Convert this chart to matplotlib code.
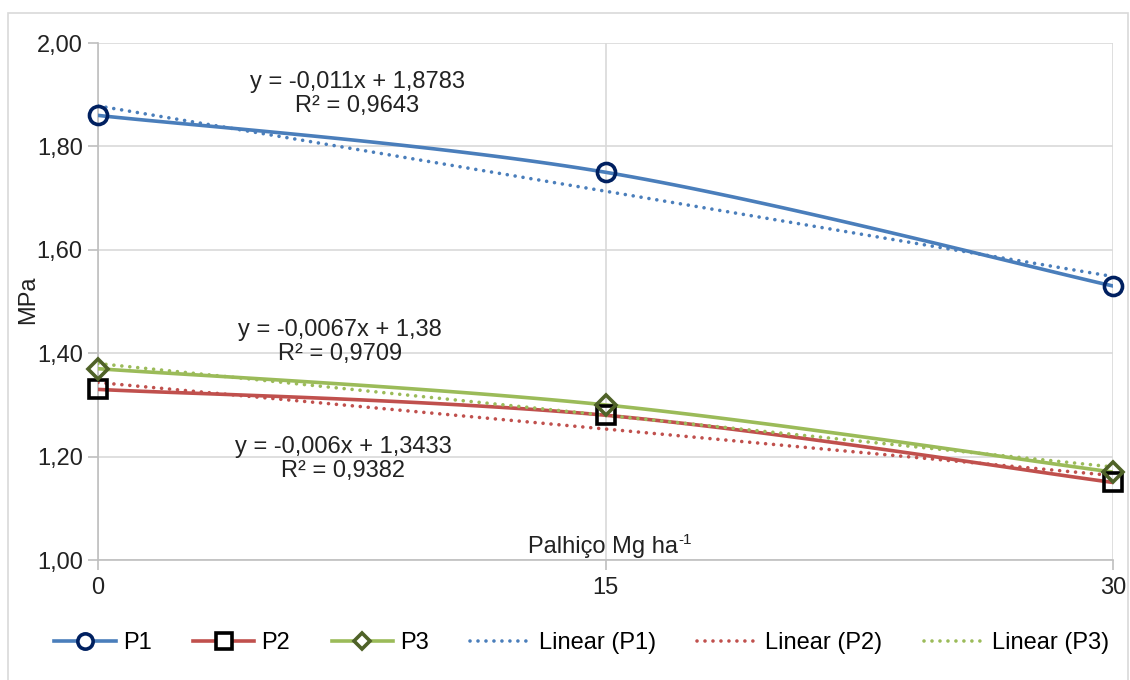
import numpy as np
import matplotlib
matplotlib.use("Agg")
import matplotlib.pyplot as plt
from matplotlib.patches import Rectangle
from matplotlib.ticker import FuncFormatter

plt.rcParams['font.family'] = ['Liberation Sans', 'DejaVu Sans']

palhico = [0, 15, 30]
p1 = [1.86, 1.75, 1.53]
p2 = [1.33, 1.28, 1.15]
p3 = [1.37, 1.30, 1.17]

names = ['P1', 'P2', 'P3']
colors = ['#4a7ebb', '#c0504d', '#9bbb59']
edge = ['#002060', '#000000', '#4f6228']
markers = ['o', 's', 'D']
msize = [13, 13, 10]
# where the trend equations sit (figure pixels)
label_pos = [(357, 94), (343, 459), (340, 342)]


def smooth(x, y, n=40):
    # catmull-rom style bezier, like the spreadsheet "smoothed line"
    x = np.asarray(x, float)
    y = np.asarray(y, float)
    pts = np.column_stack([x / 30.0, (y - 1.0) * 0.6])
    out = []
    for i in range(len(pts) - 1):
        p0 = pts[max(i - 1, 0)]
        pa = pts[i]
        pb = pts[i + 1]
        pc = pts[min(i + 2, len(pts) - 1)]
        c1 = pa + (pb - p0) / 6.0
        c2 = pb - (pc - pa) / 6.0
        t = np.linspace(0, 1, n)[:, None]
        seg = ((1 - t) ** 3) * pa + 3 * ((1 - t) ** 2) * t * c1 + 3 * (1 - t) * t ** 2 * c2 + t ** 3 * pb
        out.append(seg if i == 0 else seg[1:])
    out = np.vstack(out)
    return out[:, 0] * 30.0, out[:, 1] / 0.6 + 1.0


def fmt(v, d):
    return ('{:.%df}' % d).format(v).replace('.', ',')


def gen(v):
    s = '{:.4f}'.format(v).rstrip('0').rstrip('.')
    return s.replace('.', ',')


fig = plt.figure(figsize=(11.3, 6.8), dpi=100)
fig.patches.append(Rectangle((8 / 1130, -0.01), 1 - 10 / 1130, 1.01 - 13 / 680, transform=fig.transFigure,
                             fill=False, edgecolor='#d9d9d9', lw=1.2))
ax = fig.add_axes([98 / 1130, 1 - 560 / 680, (1113 - 98) / 1130, (560 - 43) / 680])

dots = (0, (0.01, 2.2))
series = [p1, p2, p3]
handles = []
for s, name, c, e, m, ms in zip(series, names, colors, edge, markers, msize):
    sx, sy = smooth(palhico, s)
    ax.plot(sx, sy, color=c, lw=2.6, zorder=3)
    ax.plot(palhico, s, ls='none', marker=m, ms=ms, mfc='none', mec=e, mew=2.6, zorder=5, clip_on=False)
    h, = ax.plot([], [], color=c, lw=2.6, marker=m, ms=ms - 2, mfc='white', mec=e, mew=2.6)
    handles.append((h, name))

fits = []
for s, name, c in zip(series, names, colors):
    a, b = np.polyfit(palhico, s, 1)
    r2 = np.corrcoef(palhico, s)[0, 1] ** 2
    xx = np.linspace(0, 30, 50)
    h, = ax.plot(xx, a * xx + b, color=c, lw=2.6, ls=dots, dash_capstyle='round', zorder=4)
    handles.append((h, 'Linear (%s)' % name))
    fits.append((a, b, r2))

for (a, b, r2), (px, py) in zip(fits, label_pos):
    txt = 'y = %sx + %s\nR² = %s' % (gen(a), gen(b), fmt(r2, 4))
    ax.text(px / 1130, 1 - py / 680, txt, transform=fig.transFigure, ha='center', va='center',
            fontsize=17, color='#222222', linespacing=1.15)

ax.set_xlim(0, 30)
ax.set_ylim(1.0, 2.0)
ax.set_xticks(palhico)
ax.set_yticks(np.arange(1.0, 2.01, 0.2))
ax.yaxis.set_major_formatter(FuncFormatter(lambda v, p: fmt(v, 2)))
ax.grid(True, color='#d9d9d9', lw=1.2)
ax.set_axisbelow(True)
for sp in ['top', 'right']:
    ax.spines[sp].set_visible(False)
for sp in ['left', 'bottom']:
    ax.spines[sp].set_color('#bfbfbf')
    ax.spines[sp].set_linewidth(1.2)
ax.tick_params(axis='both', colors='#bfbfbf', width=1.2, length=7, labelsize=17, labelcolor='#222222')
ax.tick_params(axis='y', pad=4)
ax.tick_params(axis='x', pad=5)

# x label with a plain hyphen in the superscript
xl = ax.text(0.4975, 0.004, 'Palhiço Mg ha', transform=ax.transAxes, ha='center', va='bottom',
             fontsize=17, color='#222222')
ax.annotate('-1', xy=(1.0, 0.8), xycoords=xl, ha='left', va='center', fontsize=11, color='#222222')
fig.text(28 / 1130, 1 - 300 / 680, 'MPa', rotation=90, ha='center', va='center', fontsize=17, color='#222222')

fig.legend([h for h, _ in handles], [n for _, n in handles], loc='center', bbox_to_anchor=(0.515, 1 - 643 / 680),
           ncol=6, frameon=False, fontsize=17, handlelength=2.6, columnspacing=1.75, handletextpad=0.3)

fig.savefig('out.png', dpi=100)
